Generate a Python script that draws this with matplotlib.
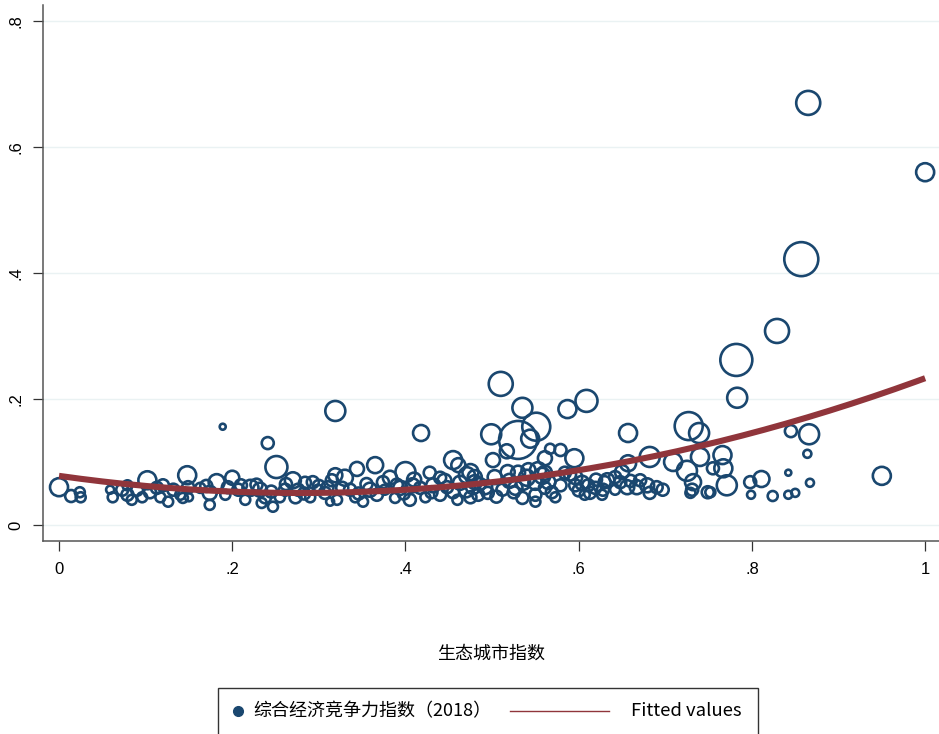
import numpy as np
import matplotlib
matplotlib.use("Agg")
import matplotlib.pyplot as plt
from matplotlib.lines import Line2D
from matplotlib.patches import Rectangle

# 生态城市指数 (x), 综合经济竞争力指数 2018 (y), bubble weight
eco_index = [
    0.000, 0.014, 0.024, 0.025,
    0.059, 0.062, 0.073, 0.079, 0.084, 0.079, 0.090, 0.096, 0.102, 0.105,
    0.113, 0.117, 0.120, 0.126, 0.132, 0.140, 0.148, 0.149, 0.143,
    0.150, 0.174, 0.174, 0.182, 0.192, 0.200, 0.207, 0.221, 0.232, 0.234,
    0.238, 0.247, 0.251, 0.241, 0.189, 0.261, 0.270, 0.276, 0.284, 0.293,
    0.290, 0.273, 0.307, 0.315, 0.313, 0.163, 0.215, 0.255, 0.299,
    0.319, 0.418, 0.365, 0.344, 0.319, 0.330, 0.455, 0.461, 0.400, 0.428,
    0.382, 0.475, 0.336, 0.359, 0.367, 0.394, 0.408, 0.417, 0.432, 0.448,
    0.463, 0.478, 0.351, 0.405, 0.321, 0.460, 0.475, 0.327, 0.376, 0.388,
    0.423, 0.440, 0.342, 0.471, 0.440, 0.374,
    0.510, 0.535, 0.587, 0.609, 0.551, 0.499, 0.530, 0.544, 0.517, 0.567,
    0.579, 0.561, 0.595, 0.501, 0.480, 0.503, 0.518, 0.530, 0.542, 0.553,
    0.561, 0.536, 0.550, 0.527, 0.512, 0.495, 0.484, 0.535, 0.550, 0.569,
    0.584, 0.596, 0.604, 0.596, 0.611, 0.619, 0.630, 0.642, 0.650, 0.627,
    0.607, 0.573, 0.550, 0.486, 0.579, 0.561,
    0.657, 0.727, 0.739, 0.682, 0.657, 0.709, 0.740, 0.766, 0.725, 0.755,
    0.767, 0.732, 0.731, 0.749, 0.771, 0.697, 0.679, 0.667, 0.656, 0.682,
    0.648, 0.633, 0.628, 0.613, 0.729, 0.752, 0.671, 0.642,
    0.865, 1.000, 0.857, 0.829, 0.782, 0.783, 0.866, 0.845, 0.864, 0.950,
    0.798, 0.811, 0.799, 0.824, 0.842, 0.842, 0.850, 0.867,
    0.410, 0.445, 0.390, 0.355, 0.300, 0.262, 0.228, 0.195, 0.170, 0.480,
    0.492, 0.520, 0.540, 0.558, 0.565, 0.525, 0.505, 0.455, 0.470, 0.430,
    0.398, 0.346, 0.310, 0.283, 0.245, 0.210, 0.600, 0.620, 0.590, 0.660,
    0.690,
]

econ_comp = [
    0.060, 0.046, 0.052, 0.044,
    0.056, 0.044, 0.056, 0.048, 0.040, 0.063, 0.056, 0.044, 0.071, 0.052,
    0.059, 0.044, 0.063, 0.037, 0.056, 0.048, 0.079, 0.060, 0.043,
    0.044, 0.051, 0.032, 0.068, 0.048, 0.075, 0.056, 0.059, 0.056, 0.035,
    0.044, 0.029, 0.092, 0.130, 0.156, 0.056, 0.071, 0.056, 0.067, 0.068,
    0.044, 0.044, 0.051, 0.071, 0.037, 0.059, 0.040, 0.044, 0.056,
    0.181, 0.146, 0.095, 0.089, 0.079, 0.075, 0.103, 0.095, 0.084, 0.083,
    0.075, 0.084, 0.056, 0.056, 0.048, 0.059, 0.063, 0.059, 0.063, 0.060,
    0.067, 0.060, 0.037, 0.040, 0.040, 0.040, 0.044, 0.059, 0.056, 0.043,
    0.044, 0.048, 0.044, 0.079, 0.075, 0.068,
    0.224, 0.186, 0.184, 0.197, 0.156, 0.144, 0.135, 0.137, 0.117, 0.121,
    0.119, 0.106, 0.106, 0.103, 0.076, 0.076, 0.084, 0.083, 0.087, 0.087,
    0.083, 0.067, 0.067, 0.059, 0.056, 0.051, 0.048, 0.043, 0.048, 0.052,
    0.083, 0.076, 0.067, 0.063, 0.063, 0.059, 0.068, 0.076, 0.084, 0.048,
    0.048, 0.044, 0.037, 0.065, 0.063, 0.059,
    0.146, 0.157, 0.146, 0.108, 0.098, 0.100, 0.108, 0.111, 0.086, 0.090,
    0.090, 0.068, 0.056, 0.052, 0.063, 0.056, 0.063, 0.060, 0.060, 0.051,
    0.068, 0.071, 0.056, 0.051, 0.051, 0.052, 0.071, 0.056,
    0.670, 0.560, 0.422, 0.308, 0.262, 0.202, 0.144, 0.149, 0.113, 0.078,
    0.068, 0.073, 0.048, 0.046, 0.083, 0.048, 0.051, 0.067,
    0.072, 0.070, 0.064, 0.065, 0.062, 0.065, 0.064, 0.060, 0.062, 0.068,
    0.060, 0.070, 0.075, 0.078, 0.068, 0.052, 0.045, 0.052, 0.055, 0.052,
    0.050, 0.050, 0.060, 0.050, 0.053, 0.063, 0.055, 0.072, 0.080, 0.070,
    0.060,
]

weight = [
    81, 36, 25, 25,
    16, 25, 36, 36, 25, 25, 36, 25, 81, 36,
    36, 25, 36, 25, 36, 25, 81, 36, 25,
    16, 49, 25, 64, 25, 49, 36, 64, 49, 25,
    36, 25, 121, 36, 9, 36, 64, 36, 36, 36,
    25, 36, 36, 36, 16, 25, 25, 25, 25,
    100, 64, 64, 49, 49, 64, 81, 49, 100, 36,
    49, 64, 36, 49, 36, 49, 49, 36, 49, 36,
    49, 49, 25, 36, 25, 25, 36, 36, 25, 25,
    25, 36, 25, 64, 36, 36,
    144, 100, 81, 121, 196, 100, 361, 81, 49, 25,
    36, 49, 81, 49, 49, 49, 49, 49, 49, 64,
    49, 49, 49, 49, 36, 36, 36, 36, 36, 36,
    36, 49, 49, 36, 36, 36, 36, 36, 49, 25,
    25, 25, 25, 36, 36, 36,
    81, 196, 100, 100, 64, 81, 81, 81, 100, 36,
    81, 64, 36, 36, 100, 36, 49, 49, 49, 36,
    36, 49, 36, 36, 25, 25, 36, 25,
    144, 81, 289, 144, 256, 100, 100, 36, 16, 81,
    36, 64, 16, 25, 9, 16, 16, 16,
    49, 49, 36, 36, 36, 36, 36, 36, 36, 49,
    49, 49, 64, 64, 49, 36, 36, 36, 49, 36,
    36, 36, 36, 36, 36, 36, 36, 36, 36, 36,
    36,
]

# quadratic fit: intercept, linear, squared term
fit_coef = [0.078, -0.195, 0.35]

x_ticks = [0, 0.2, 0.4, 0.6, 0.8, 1.0]
x_ticklabels = ["0", ".2", ".4", ".6", ".8", "1"]
y_ticks = [0, 0.2, 0.4, 0.6, 0.8]
y_ticklabels = ["0", ".2", ".4", ".6", ".8"]

NAVY = "#1a476f"
MAROON = "#90353b"
GRID = "#eaf2f3"
CJK = ["Noto Sans CJK SC", "DejaVu Sans"]

W, H, DPI = 939, 734, 100
fig = plt.figure(figsize=(W / DPI, H / DPI), dpi=DPI)
ax = fig.add_axes([43 / W, (H - 541) / H, (W - 43) / W, (541 - 5) / H])

x = np.array(eco_index)
y = np.array(econ_comp)
w = np.array(weight, dtype=float)

# weight -> marker area (radius in pixels = sqrt(weight))
sizes = w * (2 * 72 / DPI) ** 2
ax.scatter(x, y, s=sizes, facecolors="none", edgecolors=NAVY,
           linewidths=1.9, zorder=3)

xf = np.linspace(x.min(), x.max(), 200)
yf = fit_coef[0] + fit_coef[1] * xf + fit_coef[2] * xf ** 2
ax.plot(xf, yf, color=MAROON, lw=4.4, zorder=4, solid_capstyle="butt")

ax.set_xlim(-0.0185, 1.016)
ax.set_ylim(-0.0254, 0.8254)

ax.set_xticks(x_ticks)
ax.set_xticklabels(x_ticklabels, fontfamily="Liberation Sans", fontsize=12)
ax.set_yticks(y_ticks)
ax.set_yticklabels(y_ticklabels, fontfamily="Liberation Sans", fontsize=12,
                   rotation=90, va="center")
ax.tick_params(axis="both", direction="out", length=7, width=0.9,
               color="#333333")
ax.tick_params(axis="x", pad=8)
ax.tick_params(axis="y", pad=7)

for v in y_ticks:
    ax.axhline(v, color=GRID, lw=1.0, zorder=0)

for side in ["top", "right"]:
    ax.spines[side].set_visible(False)
for side in ["left", "bottom"]:
    ax.spines[side].set_color("#555555")
    ax.spines[side].set_linewidth(1.1)

ax.set_xlabel("生态城市指数", family=CJK, fontsize=13, labelpad=49)

# legend box under the axis title
def fx(px):
    return px / W

def fy(py):
    return 1 - py / H

fig.patches.append(Rectangle((fx(218), fy(745)), fx(758) - fx(218),
                             fy(688) - fy(745), transform=fig.transFigure,
                             fill=False, edgecolor="#333333", lw=1.0))
ly = fy(711)
fig.lines.append(Line2D([fx(238)], [ly], marker="o", markersize=7,
                        color=NAVY, ls="", transform=fig.transFigure))
fig.text(fx(253), ly, "综合经济竞争力指数（2018）", family=CJK, fontsize=13,
         va="center", ha="left")
fig.lines.append(Line2D([fx(510), fx(609)], [ly, ly], color=MAROON, lw=1.0,
                        transform=fig.transFigure))
fig.text(fx(631), ly, "Fitted values", family=CJK, fontsize=13.3,
         va="center", ha="left")

fig.savefig("out.png", dpi=DPI)
